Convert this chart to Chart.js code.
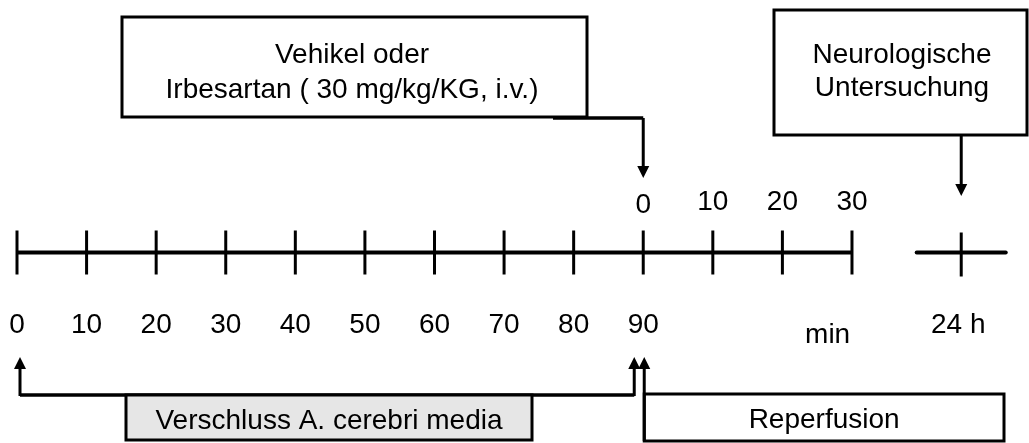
<!DOCTYPE html>
<html>
<head>
<meta charset="utf-8">
<script src="https://cdn.jsdelivr.net/npm/chart.js@4"></script>
<style>
  body { margin: 0; background: #fff; }
  #wrap { width: 1029px; height: 443px; }
</style>
</head>
<body>
<div id="wrap"><canvas id="grafico"></canvas></div>
<script>
// Zeitachse in Minuten
const ischemiaTicks = [0, 10, 20, 30, 40, 50, 60, 70, 80, 90];
const reperfusionTicks = [90, 100, 110, 120];
const reperfusionLabels = ['0', '10', '20', '30'];
const lateMark = 135.7;          // Position der 24 h Markierung auf der Achse
const lateLabel = '24 h';
const lateSpan = [129.3, 142.1]; // kurzes Achsenstück um 24 h
const unitLabel = 'min';

const injectionAt = 90;   // Vehikel / Irbesartan
const occlusion = [0, 90];
const reperfusionStart = 90;

const axisY = 252.5;
const FONT = '28px "Liberation Sans", Arial, sans-serif';

const tickPoints = ischemiaTicks.concat(reperfusionTicks.slice(1)).map(t => ({ x: t, y: axisY }));

const overlay = {
    id: 'overlay',
    afterDraw(chart) {
        const ctx = chart.ctx;
        const xs = chart.scales.x, ys = chart.scales.y;
        const px = v => xs.getPixelForValue(v);
        const py = v => ys.getPixelForValue(v);

        ctx.save();
        ctx.strokeStyle = '#000';
        ctx.fillStyle = '#000';
        ctx.font = FONT;
        ctx.textAlign = 'center';
        ctx.textBaseline = 'alphabetic';

        // Beschriftung unter der Achse
        ischemiaTicks.forEach(t => ctx.fillText(String(t), px(t), py(333)));
        ctx.fillText(unitLabel, px(116.5), py(343));
        ctx.fillText(lateLabel, px(lateMark) - 3, py(333));

        // Beschriftung über der Achse (Reperfusion)
        reperfusionTicks.forEach((t, i) => {
            ctx.fillText(reperfusionLabels[i], px(t), py(i === 0 ? 213 : 210));
        });

        function arrow(x, yFrom, yTo) {
            const dir = yTo > yFrom ? 1 : -1;
            ctx.lineWidth = 3;
            ctx.beginPath();
            ctx.moveTo(x, yFrom);
            ctx.lineTo(x, yTo - dir * 10);
            ctx.stroke();
            ctx.beginPath();
            ctx.moveTo(x, yTo);
            ctx.lineTo(x - 6, yTo - dir * 12);
            ctx.lineTo(x + 6, yTo - dir * 12);
            ctx.closePath();
            ctx.fill();
        }

        // Box oben links
        ctx.lineWidth = 3;
        ctx.strokeRect(122, 17, 465, 100);
        ctx.fillText('Vehikel oder', 352, 63);
        ctx.fillText('Irbesartan ( 30 mg/kg/KG, i.v.)', 352, 98);
        ctx.lineWidth = 3.5;
        ctx.beginPath();
        ctx.moveTo(553, 118);
        ctx.lineTo(px(injectionAt), 118);
        ctx.stroke();
        arrow(px(injectionAt), 118, 178);

        // Box oben rechts
        ctx.lineWidth = 3;
        ctx.strokeRect(774, 10, 253, 125);
        ctx.fillText('Neurologische', 902, 63);
        ctx.fillText('Untersuchung', 902, 96);
        arrow(px(lateMark), 135, 196);

        // Verschluss
        const xo0 = px(occlusion[0]) + 3, xo1 = px(occlusion[1]) - 9;
        ctx.lineWidth = 3.5;
        ctx.beginPath();
        ctx.moveTo(xo0, 395);
        ctx.lineTo(xo1, 395);
        ctx.stroke();
        arrow(xo0, 396, 357);
        arrow(xo1, 396, 357);
        ctx.fillStyle = '#e6e6e6';
        ctx.fillRect(126, 395, 406, 45);
        ctx.fillStyle = '#000';
        ctx.lineWidth = 3;
        ctx.strokeRect(126, 395, 406, 45);
        ctx.fillText('Verschluss A. cerebri media', 329, 429);

        // Reperfusion
        const xr = px(reperfusionStart) + 1;
        arrow(xr, 441, 357);
        ctx.lineWidth = 3;
        ctx.strokeRect(xr, 394, 1004 - xr, 47);
        ctx.fillText('Reperfusion', (xr + 1004) / 2, 428);

        ctx.restore();
    }
};

new Chart('grafico', {
    type: 'scatter',
    data: {
        datasets: [
            {
                data: [{ x: ischemiaTicks[0], y: axisY }, { x: reperfusionTicks[reperfusionTicks.length - 1], y: axisY }],
                showLine: true, borderColor: '#000', borderWidth: 4, pointRadius: 0
            },
            {
                data: [{ x: lateSpan[0], y: axisY }, { x: lateSpan[1], y: axisY }],
                showLine: true, borderColor: '#000', borderWidth: 4, pointRadius: 0,
                borderCapStyle: 'round'
            },
            {
                data: tickPoints,
                pointStyle: 'line', rotation: 90, pointRadius: 22,
                borderColor: '#000', borderWidth: 3, showLine: false
            },
            {
                data: [{ x: lateMark, y: axisY + 2 }],
                pointStyle: 'line', rotation: 90, pointRadius: 22,
                borderColor: '#000', borderWidth: 3, showLine: false
            }
        ]
    },
    options: {
        responsive: true,
        maintainAspectRatio: false,
        animation: false,
        events: [],
        layout: { padding: 0, autoPadding: false },
        plugins: { legend: { display: false }, tooltip: { enabled: false } },
        scales: {
            x: { type: 'linear', min: -2.443, max: 145.44, display: false },
            y: { type: 'linear', min: 0, max: 443, reverse: true, display: false }
        }
    },
    plugins: [overlay]
});
</script>
</body>
</html>
